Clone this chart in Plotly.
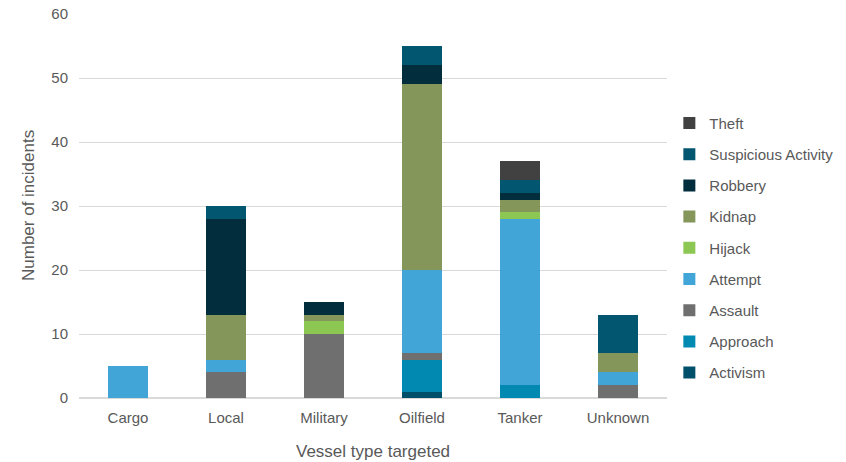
import plotly.graph_objects as go

categories = ["Cargo", "Local", "Military", "Oilfield", "Tanker", "Unknown"]

activism = [0, 0, 0, 1, 0, 0]
approach = [0, 0, 0, 5, 2, 0]
assault = [0, 4, 10, 1, 0, 2]
attempt = [5, 2, 0, 13, 26, 2]
hijack = [0, 0, 2, 0, 1, 0]
kidnap = [0, 7, 1, 29, 2, 3]
robbery = [0, 15, 2, 3, 1, 0]
suspicious = [0, 2, 0, 3, 2, 6]
theft = [0, 0, 0, 0, 3, 0]

series = [
    ("Activism", activism, "#01506B"),
    ("Approach", approach, "#0189B1"),
    ("Assault", assault, "#6F6F6F"),
    ("Attempt", attempt, "#42A5D8"),
    ("Hijack", hijack, "#8CC653"),
    ("Kidnap", kidnap, "#84965A"),
    ("Robbery", robbery, "#022D3D"),
    ("Suspicious Activity", suspicious, "#02566F"),
    ("Theft", theft, "#414141"),
]

fig = go.Figure()
n = len(series)
for i, (name, vals, col) in enumerate(series):
    fig.add_trace(go.Bar(
        x=categories, y=vals, name=name, marker_color=col,
        marker_line_width=0, width=0.41, legendgroup=name,
        legendrank=100 + (n - i),
    ))

fig.update_layout(
    barmode="stack",
    width=846, height=462,
    margin=dict(l=79, r=179, t=14, b=64, autoexpand=False),
    paper_bgcolor="white", plot_bgcolor="white",
    font=dict(family="Liberation Sans, Arial, sans-serif", size=15, color="#595959"),
    legend=dict(
        traceorder="grouped", x=1.004, xanchor="left", y=0.39, yanchor="middle",
        tracegroupgap=8.7, font=dict(size=15, color="#595959"),
        itemwidth=30,
    ),
    xaxis=dict(
        showgrid=False, showline=True, linecolor="#D9D9D9", linewidth=1,
        tickfont=dict(size=15, color="#595959"), automargin=False,
        ticklabelstandoff=6,
    ),
    yaxis=dict(
        range=[0, 60], dtick=10, showgrid=True, gridcolor="#D9D9D9", gridwidth=1,
        zeroline=True, zerolinecolor="#D9D9D9", ticks="", ticklen=0,
        tickfont=dict(size=15, color="#595959"), automargin=False,
        ticklabelstandoff=10,
    ),
    annotations=[
        dict(text="Vessel type targeted", xref="paper", yref="paper", x=0.5, y=-0.14,
             yanchor="middle", xanchor="center", showarrow=False,
             font=dict(size=17, color="#595959")),
        dict(text="Number of incidents", xref="paper", yref="paper", x=0, y=0.5,
             xanchor="center", yanchor="middle", xshift=-51, textangle=-90, showarrow=False,
             font=dict(size=17, color="#595959")),
    ],
    bargap=0.59,
)

fig.write_html("out.html")
